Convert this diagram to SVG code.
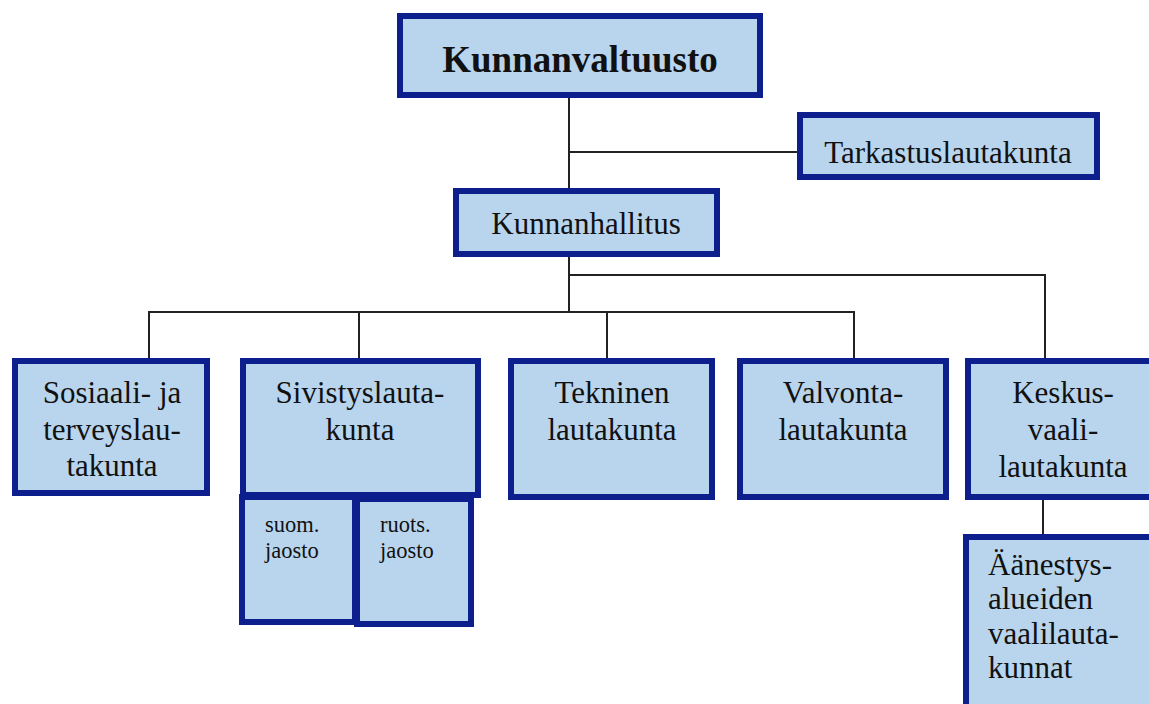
<svg xmlns="http://www.w3.org/2000/svg" width="1149" height="704" viewBox="0 0 1149 704">
<style>
.box{fill:#b9d5ee;stroke:#0c1f8c;stroke-width:6}
.t{font-family:"Liberation Serif","Times New Roman",serif;font-size:31px;fill:#111;text-anchor:middle}
.s{font-family:"Liberation Serif","Times New Roman",serif;font-size:22.5px;fill:#111}
.l{font-family:"Liberation Serif","Times New Roman",serif;font-size:31px;fill:#111}
.c{fill:none;stroke:#222;stroke-width:2}
</style>
<rect width="1149" height="704" fill="#ffffff"/>
<g id="connectors">
<path class="c" d="M569,98 V312"/>
<path class="c" d="M569,152 H800"/>
<path class="c" d="M569,275 H1045 V360"/>
<path class="c" d="M149,360 V312 H854 V360"/>
<path class="c" d="M359,312 V360"/>
<path class="c" d="M607,312 V360"/>
<path class="c" d="M1043,500 V535"/>
</g>
<g id="kunnanvaltuusto">
<rect class="box" x="400" y="16" width="360" height="79"/>
<text class="t" x="580" y="72" style="font-size:37px;font-weight:bold">Kunnanvaltuusto</text>
</g>
<g id="tarkastuslautakunta">
<rect class="box" x="800" y="115" width="297" height="62"/>
<text class="t" x="948" y="163">Tarkastuslautakunta</text>
</g>
<g id="kunnanhallitus">
<rect class="box" x="456" y="191" width="261" height="63"/>
<text class="t" x="586" y="234">Kunnanhallitus</text>
</g>
<g id="sosiaali">
<rect class="box" x="15" y="361" width="192" height="132"/>
<text class="t" x="112" y="403">Sosiaali- ja</text>
<text class="t" x="112" y="440">terveyslau-</text>
<text class="t" x="112" y="476">takunta</text>
</g>
<g id="sivistys">
<rect class="box" x="243" y="361" width="235" height="134"/>
<text class="t" x="360" y="403">Sivistyslauta-</text>
<text class="t" x="360" y="440">kunta</text>
</g>
<g id="suom">
<rect class="box" x="242" y="497" width="113" height="125"/>
<text class="s" x="265" y="532">suom.</text>
<text class="s" x="265" y="558">jaosto</text>
</g>
<g id="ruots">
<rect class="box" x="357" y="499" width="114" height="125"/>
<text class="s" x="380" y="532">ruots.</text>
<text class="s" x="380" y="558">jaosto</text>
</g>
<g id="tekninen">
<rect class="box" x="511" y="361" width="201" height="136"/>
<text class="t" x="612" y="403">Tekninen</text>
<text class="t" x="612" y="440">lautakunta</text>
</g>
<g id="valvonta">
<rect class="box" x="740" y="361" width="206" height="136"/>
<text class="t" x="843" y="403">Valvonta-</text>
<text class="t" x="843" y="440">lautakunta</text>
</g>
<g id="keskusvaalilautakunta">
<rect class="box" x="968" y="361" width="200" height="136"/>
<text class="t" x="1063" y="403">Keskus-</text>
<text class="t" x="1063" y="440">vaali-</text>
<text class="t" x="1063" y="477">lautakunta</text>
</g>
<g id="aanestysalueiden">
<rect class="box" x="966" y="537" width="200" height="190"/>
<text class="l" x="988" y="575">Äänestys-</text>
<text class="l" x="988" y="609">alueiden</text>
<text class="l" x="988" y="644">vaalilauta-</text>
<text class="l" x="988" y="678">kunnat</text>
</g>
</svg>
